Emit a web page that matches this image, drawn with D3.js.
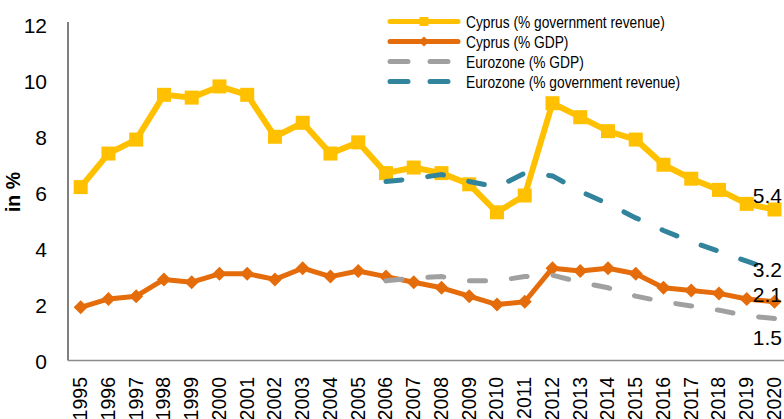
<!DOCTYPE html>
<html>
<head>
<meta charset="utf-8">
<script src="https://cdn.jsdelivr.net/npm/d3@7"></script>
<style>
  html, body { margin: 0; padding: 0; background: #fff; }
  svg { display: block; }
  text { font-family: "Liberation Sans", Arial, sans-serif; fill: #000; }
</style>
</head>
<body>
<svg id="chart" width="784" height="419"></svg>
<script>
const years = [1995,1996,1997,1998,1999,2000,2001,2002,2003,2004,2005,2006,2007,2008,2009,2010,2011,2012,2013,2014,2015,2016,2017,2018,2019,2020];
const cyprusRevenue = [6.2,7.4,7.9,9.5,9.4,9.8,9.5,8.0,8.5,7.4,7.8,6.7,6.9,6.7,6.3,5.3,5.9,9.2,8.7,8.2,7.9,7.0,6.5,6.1,5.6,5.4];
const cyprusGDP = [1.9,2.2,2.3,2.9,2.8,3.1,3.1,2.9,3.3,3.0,3.2,3.0,2.8,2.6,2.3,2.0,2.1,3.3,3.2,3.3,3.1,2.6,2.5,2.4,2.2,2.1];
const ezYears = [2006,2007,2008,2009,2010,2011,2012,2013,2014,2015,2016,2017,2018,2019,2020];
const ezGDP = [2.85,2.95,3.0,2.85,2.85,3.0,3.05,2.8,2.6,2.3,2.1,1.95,1.8,1.6,1.5];
const ezRevenue = [6.4,6.5,6.65,6.4,6.2,6.7,6.6,6.05,5.6,5.1,4.65,4.25,3.9,3.55,3.2];
const yTicks = [0,2,4,6,8,10,12];
const seriesNames = ["Cyprus (% government revenue)","Cyprus (% GDP)","Eurozone (% GDP)","Eurozone (% government revenue)"];
const endLabelTexts = ["5.4","2.1","1.5","3.2"];
const yAxisTitle = "in %";

const colors = ["#FFC000","#E46C0A","#A0A0A0","#31849B"];

const svg = d3.select("#chart");
const x = d3.scalePoint().domain(years).range([80.7, 774.5]);
const y = d3.scaleLinear().domain([0,12]).range([360.5, 24.9]);

// axes lines
svg.append("line").attr("x1",68).attr("x2",68).attr("y1",22).attr("y2",360.5)
  .attr("stroke","#000").attr("stroke-width",1);
svg.append("line").attr("x1",68).attr("x2",784).attr("y1",360.5).attr("y2",360.5)
  .attr("stroke","#8c8c8c").attr("stroke-width",1.6);

// y ticks
const yAxis = d3.axisLeft(y).tickValues(yTicks).tickSize(0).tickPadding(0).tickFormat(d3.format("d"));
const yg = svg.append("g").attr("transform","translate(47,0)").call(yAxis);
yg.select(".domain").remove();
yg.selectAll("text").attr("font-size","21px").attr("font-family","Liberation Sans, Arial, sans-serif")
  .attr("fill","#000").attr("dy","0.36em").attr("x",0);

// x ticks
const xAxis = d3.axisBottom(x).tickSize(0).tickFormat(d3.format("d"));
const xg = svg.append("g").attr("transform","translate(0,360.5)").call(xAxis);
xg.select(".domain").remove();
xg.selectAll("text").attr("font-size","19.5px").attr("font-family","Liberation Sans, Arial, sans-serif")
  .attr("fill","#000").attr("text-anchor","end")
  .attr("transform","translate(6,16.5) rotate(-90)").attr("x",0).attr("y",0).attr("dy",0);

// y title
svg.append("text").attr("transform","translate(20,192) rotate(-90)")
  .attr("text-anchor","middle").attr("font-size","19.5px").attr("font-weight","bold").text(yAxisTitle);

const line = d3.line().x(d => x(d[0])).y(d => y(d[1]));

const dataSeries = [
  years.map((yr,i) => [yr, cyprusRevenue[i]]),
  years.map((yr,i) => [yr, cyprusGDP[i]]),
  ezYears.map((yr,i) => [yr, ezGDP[i]]),
  ezYears.map((yr,i) => [yr, ezRevenue[i]])
];

// Cyprus revenue
svg.append("path").datum(dataSeries[0]).attr("d",line).attr("fill","none")
  .attr("stroke",colors[0]).attr("stroke-width",6).attr("stroke-linejoin","round");
svg.append("g").selectAll("rect").data(dataSeries[0]).join("rect")
  .attr("x",d => x(d[0]) - 7).attr("y",d => y(d[1]) - 7).attr("width",14).attr("height",14)
  .attr("fill",colors[0]);

// Cyprus GDP
svg.append("path").datum(dataSeries[1]).attr("d",line).attr("fill","none")
  .attr("stroke",colors[1]).attr("stroke-width",5).attr("stroke-linejoin","round");
svg.append("g").selectAll("path").data(dataSeries[1]).join("path")
  .attr("d",d => { const cx = x(d[0]), cy = y(d[1]), r = 7; return `M${cx},${cy-r}L${cx+r},${cy}L${cx},${cy+r}L${cx-r},${cy}Z`; })
  .attr("fill",colors[1]);

// Eurozone GDP
svg.append("path").datum(dataSeries[2]).attr("d",line).attr("fill","none")
  .attr("stroke",colors[2]).attr("stroke-width",5).attr("stroke-linecap","round")
  .attr("stroke-dasharray","16 26");
// Eurozone revenue
svg.append("path").datum(dataSeries[3]).attr("d",line).attr("fill","none")
  .attr("stroke",colors[3]).attr("stroke-width",5).attr("stroke-linecap","round")
  .attr("stroke-dasharray","16 26");

// end labels
const endOffsets = [-6.5, 0.5, 26.5, 6];
dataSeries.forEach((s,i) => {
  const last = s[s.length-1];
  svg.append("text").attr("x",782).attr("y",y(last[1]) + endOffsets[i])
    .attr("text-anchor","end").attr("font-size","21px").text(endLabelTexts[i]);
});

// legend
const legendY = [21.5, 41.5, 61.5, 81.5];
seriesNames.forEach((name,i) => {
  const g = svg.append("g");
  const ly = legendY[i];
  const ln = g.append("line").attr("x1",390).attr("x2",458).attr("y1",ly).attr("y2",ly)
    .attr("stroke",colors[i]).attr("stroke-width",5).attr("stroke-linecap","round");
  if (i >= 2) ln.attr("stroke-dasharray","18 22");
  if (i === 0) g.append("rect").attr("x",419.5).attr("y",ly-4.5).attr("width",9).attr("height",9).attr("fill",colors[0]);
  if (i === 1) g.append("path").attr("d",`M424,${ly-5}L429,${ly}L424,${ly+5}L419,${ly}Z`).attr("fill",colors[1]);
  g.append("text").attr("transform",`translate(466,${ly+6}) scale(0.81,1)`)
    .attr("font-size","17px").text(name);
});
</script>
</body>
</html>
